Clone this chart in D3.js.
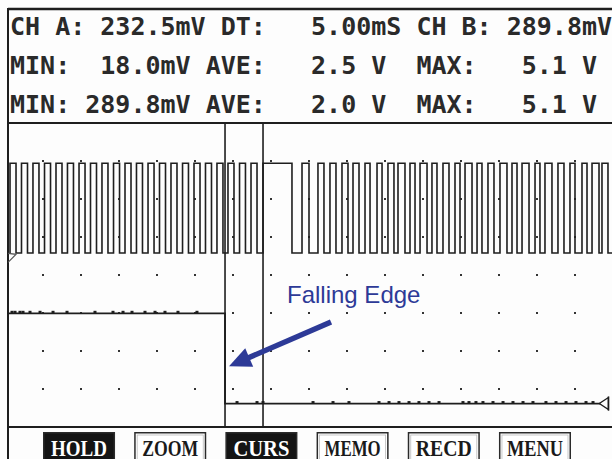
<!DOCTYPE html>
<html>
<head>
<meta charset="utf-8">
<script src="https://cdn.jsdelivr.net/npm/d3@7"></script>
<style>
  html, body { margin: 0; padding: 0; background: #ffffff; }
  svg { display: block; }
  text.pre { white-space: pre; }
</style>
</head>
<body>
<script>
// ---- readout rows (monospace LCD text) ----
const headerRows = [
  "CH A: 232.5mV DT:   5.00mS CH B: 289.8mV",
  "MIN:  18.0mV AVE:   2.5 V  MAX:   5.1 V",
  "MIN: 289.8mV AVE:   2.0 V  MAX:   5.1 V"
];

// ---- soft keys ----
const buttonLabels = ["HOLD", "ZOOM", "CURS", "MEMO", "RECD", "MENU"];
const buttonActive = [true, false, true, false, false, false];

// ---- channel A: pulse train, edge times in ms ----
const chARise = [0.66, 2.17, 3.68, 5.20, 6.71, 8.22, 9.74, 11.25, 12.76, 14.28, 15.79, 17.30,
  18.82, 20.33, 21.84, 23.36, 24.87, 26.38, 27.89, 29.34, 30.86, 32.37, 33.95,
  39.08, 41.18, 42.76, 44.34, 45.79, 47.37, 48.95, 50.39, 51.71, 53.29, 54.61, 56.18,
  57.63, 59.21, 60.53, 62.11, 63.55, 65.13, 66.71, 68.03, 69.74, 71.05, 72.76, 74.34,
  75.92, 77.24, 78.55];
const chAFall = [1.45, 2.96, 4.47, 5.99, 7.50, 9.01, 10.53, 12.04, 13.55, 15.07, 16.58, 18.09,
  19.61, 21.12, 22.63, 24.14, 25.66, 27.17, 28.68, 30.13, 31.64, 33.16, 37.76,
  40.00, 41.97, 43.55, 45.13, 46.58, 48.03, 49.61, 51.18, 52.63, 53.95, 55.53, 56.84,
  58.42, 59.87, 61.45, 62.76, 64.34, 66.05, 67.37, 68.95, 70.39, 71.97, 73.55, 75.00,
  76.58, 78.16, 79.34];
const chALevels = [0.018, 5.1];   // min / max volts

// ---- channel B: single falling edge ----
const chBStart = 0.39, chBEnd = 78.95;
const chBFall = 28.95;
const chBLevels = [0.2898, 5.1];
// small sample spikes riding on the trace (ms)
const chBSpikesHigh = [0.92, 1.32, 1.97, 2.37, 3.29, 4.61, 6.32, 8.16, 11.84, 14.21, 15.53,
  16.71, 18.42, 19.74, 21.05, 22.76, 25.26];
const chBSpikesLow = [30.53, 33.16, 33.95, 40.53, 43.16, 45.26, 49.21, 50.53, 51.84, 53.16,
  54.47, 55.79, 57.11, 60.26, 61.05, 61.97, 62.89, 64.21, 65.53, 66.84, 68.16, 69.47,
  71.18, 72.50, 73.82, 75.13, 76.45, 77.37];

// ---- cursors (ms) ----
const cursorTimes = [28.95, 33.95];

const W = 612, H = 459;
const ink = "#1e1e1e";
const blue = "#2d3a97";

const svg = d3.select("body").append("svg")
  .attr("width", W).attr("height", H)
  .attr("viewBox", `0 0 ${W} ${H}`);

svg.append("rect").attr("width", W).attr("height", H).attr("fill", "#fdfdfd");

// scales: 5 ms / division horizontally, 8 divisions vertically
const x = d3.scaleLinear().domain([0, 80]).range([5, 613]);
const yDiv = d3.scaleLinear().domain([0, 8]).range([427, 123]);
const yA = d3.scaleLinear().domain([0, 5.1]).range([253.3, 163.3]);
const yB = d3.scaleLinear().domain([0, 5.1]).range([409, 313.3]);

// ---- frame ----
const frame = svg.append("g").attr("stroke", ink).attr("fill", "none");
frame.append("line").attr("x1", 8).attr("x2", W).attr("y1", 9).attr("y2", 9).attr("stroke-width", 2.5);
frame.append("line").attr("x1", 8).attr("x2", W).attr("y1", yDiv(8)).attr("y2", yDiv(8)).attr("stroke-width", 2);
frame.append("line").attr("x1", 8).attr("x2", W).attr("y1", yDiv(0)).attr("y2", yDiv(0)).attr("stroke-width", 2);
frame.append("line").attr("x1", 8).attr("x2", 8).attr("y1", 8).attr("y2", H).attr("stroke-width", 2);

// ---- readout text ----
svg.append("g").selectAll("text").data(headerRows).join("text")
  .attr("class", "pre")
  .attr("x", 10)
  .attr("y", (d, i) => 35 + i * 39)
  .attr("font-family", "'DejaVu Sans Mono', monospace")
  .attr("font-weight", "bold")
  .attr("font-size", 25)
  .attr("fill", "#2a2a2a")
  .text(d => d);

// ---- dotted graticule ----
const gridT = x.ticks(16).filter(t => t > 0 && t < 80);
const gridD = d3.range(1, 8);
const dots = [];
gridD.forEach(d => gridT.forEach(t => dots.push([t, d])));
svg.append("g").selectAll("rect").data(dots).join("rect")
  .attr("x", d => x(d[0]) - 1).attr("y", d => yDiv(d[1]) - 1)
  .attr("width", 2).attr("height", 2).attr("fill", "#333");

// ---- cursors ----
svg.append("g").selectAll("line").data(cursorTimes).join("line")
  .attr("x1", d => x(d)).attr("x2", d => x(d))
  .attr("y1", yDiv(8)).attr("y2", yDiv(0))
  .attr("stroke", ink).attr("stroke-width", 1.6);

// ---- channel A trace ----
const ptsA = [];
chARise.forEach((r, i) => {
  ptsA.push([r, chALevels[0]], [r, chALevels[1]], [chAFall[i], chALevels[1]], [chAFall[i], chALevels[0]]);
});
ptsA.push([80, chALevels[0]]);
svg.append("path")
  .attr("d", d3.line().x(d => x(d[0])).y(d => yA(d[1]))(ptsA))
  .attr("fill", "none").attr("stroke", ink).attr("stroke-width", 1.6)
  .attr("stroke-linejoin", "miter");

// ---- channel B trace ----
const ptsB = [[chBStart, chBLevels[1]], [chBFall, chBLevels[1]], [chBFall, chBLevels[0]], [chBEnd, chBLevels[0]]];
svg.append("path")
  .attr("d", d3.line().x(d => x(d[0])).y(d => yB(d[1]))(ptsB))
  .attr("fill", "none").attr("stroke", ink).attr("stroke-width", 1.8);

svg.append("g").selectAll("rect.sh").data(chBSpikesHigh).join("rect")
  .attr("x", d => x(d) - 1.5).attr("y", yB(chBLevels[1]) - 2.5)
  .attr("width", 3).attr("height", 2.5).attr("fill", ink);
svg.append("g").selectAll("rect.sl").data(chBSpikesLow).join("rect")
  .attr("x", d => x(d) - 1.5).attr("y", yB(chBLevels[0]) - 2.5)
  .attr("width", 3).attr("height", 2.5).attr("fill", ink);

// ground markers
const gA = yA(0), gB = yB(chBLevels[0]);
svg.append("path")
  .attr("d", `M${x(0.4)},${gA} L${x(0.4)+8},${gA+1} L${x(0.4)},${gA+9}`)
  .attr("fill", "none").attr("stroke", "#555").attr("stroke-width", 1.2);
svg.append("path")
  .attr("d", `M${x(79.4)},${gB-6} L${x(78.2)},${gB} L${x(79.4)},${gB+6} Z`)
  .attr("fill", "#fff").attr("stroke", ink).attr("stroke-width", 1.3);
svg.append("line")
  .attr("x1", x(79.4)).attr("x2", x(79.4)).attr("y1", gB - 7).attr("y2", gB + 7)
  .attr("stroke", ink).attr("stroke-width", 1.6);

// ---- annotation ----
svg.append("text")
  .attr("x", 287).attr("y", 303)
  .attr("font-family", "'Liberation Sans', Arial, sans-serif")
  .attr("font-size", 24)
  .attr("fill", blue)
  .text("Falling Edge");

const tip = [x(cursorTimes[0]) + 4, yDiv(1.6)];
const tail = [331, 322];
const dx = tip[0] - tail[0], dy = tip[1] - tail[1];
const len = Math.hypot(dx, dy);
const ux = dx / len, uy = dy / len, nx = -uy, ny = ux;
const headL = 22, headW = 10;
const base = [tip[0] - ux * headL, tip[1] - uy * headL];
svg.append("line")
  .attr("x1", tail[0]).attr("y1", tail[1])
  .attr("x2", base[0] + ux * 2).attr("y2", base[1] + uy * 2)
  .attr("stroke", blue).attr("stroke-width", 5.5);
svg.append("path")
  .attr("d", `M${tip[0]},${tip[1]} L${base[0] + nx * headW},${base[1] + ny * headW} L${base[0] - nx * headW},${base[1] - ny * headW} Z`)
  .attr("fill", blue);

// ---- soft keys ----
const bx = d3.scaleBand().domain(buttonLabels).range([43, 571]).paddingInner(0.21);
const btn = svg.append("g").selectAll("g").data(buttonLabels).join("g")
  .attr("transform", d => `translate(${bx(d)},432)`);
btn.append("rect")
  .attr("x", 0.75).attr("y", 0.75)
  .attr("width", bx.bandwidth() - 1.5).attr("height", 40)
  .attr("fill", (d, i) => buttonActive[i] ? "#141414" : "#ffffff")
  .attr("stroke", "#2a2a2a").attr("stroke-width", 1.5);
btn.filter((d, i) => !buttonActive[i]).append("rect")
  .attr("x", 3).attr("y", 3)
  .attr("width", bx.bandwidth() - 6).attr("height", 40)
  .attr("fill", "none").attr("stroke", "#bbb").attr("stroke-width", 0.8);
btn.append("text")
  .attr("x", bx.bandwidth() / 2).attr("y", 23.5)
  .attr("text-anchor", "middle")
  .attr("font-family", "'Liberation Serif', 'Times New Roman', serif")
  .attr("font-weight", "bold")
  .attr("font-size", 24)
  .attr("textLength", 56).attr("lengthAdjust", "spacingAndGlyphs")
  .attr("fill", (d, i) => buttonActive[i] ? "#ffffff" : "#1a1a1a")
  .text(d => d);
</script>
</body>
</html>
